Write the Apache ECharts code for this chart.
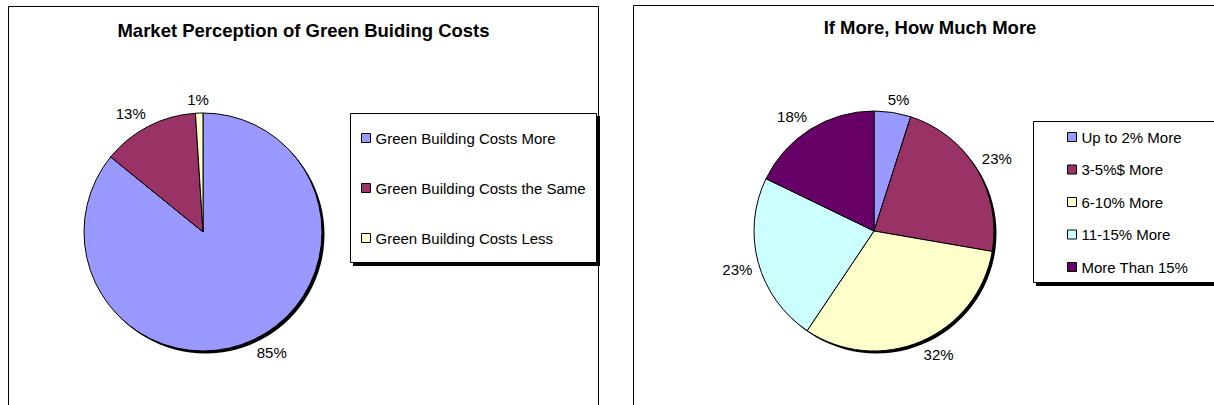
<!DOCTYPE html>
<html>
<head>
<meta charset="utf-8">
<script src="https://cdn.jsdelivr.net/npm/echarts@6/dist/echarts.min.js"></script>
<style>
html,body{margin:0;padding:0;background:#fff;}
#c{width:1214px;height:405px;}
</style>
</head>
<body>
<div id="c"></div>
<script>
var title1 = 'Market Perception of Green Buiding Costs';
var categories1 = ['Green Building Costs More', 'Green Building Costs the Same', 'Green Building Costs Less'];
var values1 = [85, 13, 1];
var colors1 = ['#9999FF', '#993366', '#FFFFCC'];

var title2 = 'If More, How Much More';
var categories2 = ['Up to 2% More', '3-5%$ More', '6-10% More', '11-15% More', 'More Than 15%'];
var values2 = [5, 23, 32, 23, 18];
var colors2 = ['#9999FF', '#993366', '#FFFFCC', '#CCFFFF', '#660066'];

var FONT = 'Arial, "Liberation Sans", sans-serif';

function pieData(cats, vals, cols) {
  return cats.map(function (c, i) {
    return { name: c, value: vals[i], itemStyle: { color: cols[i] } };
  });
}

function clamp1(t) { return Math.max(-1, Math.min(1, t)); }

// Place each label (Excel-like) just outside the slice's bisector
function makeLabelLayout(vals, center, r) {
  var total = vals.reduce(function (a, b) { return a + b; }, 0);
  var cum = [0];
  vals.forEach(function (v, i) { cum.push(cum[i] + v); });
  return function (p) {
    var i = p.dataIndex;
    if (i == null || i >= vals.length) return;
    var mid = (cum[i] + cum[i + 1]) / 2 / total * Math.PI * 2;
    var dx = Math.sin(mid), dy = -Math.cos(mid);
    var d = r + 6;
    var w = p.labelRect.width, h = p.labelRect.height;
    return {
      x: center[0] + dx * d + clamp1(dx * 3) * w / 2,
      y: center[1] + dy * d + clamp1(dy * 3) * h / 2,
      align: 'center',
      verticalAlign: 'middle'
    };
  };
}

function mainPie(cats, vals, cols, center, r) {
  return {
    type: 'pie',
    center: center,
    radius: r,
    startAngle: 90,
    clockwise: true,
    avoidLabelOverlap: false,
    z: 3,
    animation: false,
    itemStyle: { borderColor: '#000', borderWidth: 1 },
    label: {
      show: true, position: 'outside', formatter: '{c}%',
      color: '#000', fontSize: 15, fontFamily: FONT
    },
    labelLine: { show: false, length: 10, length2: 0 },
    labelLayout: makeLabelLayout(vals, center, r),
    emphasis: { disabled: true },
    data: pieData(cats, vals, cols)
  };
}

function shadowPie(center, r) {
  return {
    type: 'pie',
    center: [center[0] + 2.5, center[1] + 2.5],
    radius: r,
    z: 2,
    silent: true,
    animation: false,
    label: { show: false },
    labelLine: { show: false },
    itemStyle: { color: '#000', borderWidth: 0 },
    emphasis: { disabled: true },
    data: [{ name: '', value: 1 }]
  };
}

var chart = echarts.init(document.getElementById('c'), null, { renderer: 'svg' });

var option = {
  backgroundColor: '#fff',
  animation: false,
  title: [
    { text: title1, left: 303.5, top: 21, textAlign: 'center', padding: 0,
      textStyle: { fontSize: 18.5, fontWeight: 'bold', color: '#000', fontFamily: FONT } },
    { text: title2, left: 930, top: 18, textAlign: 'center', padding: 0,
      textStyle: { fontSize: 18.5, fontWeight: 'bold', color: '#000', fontFamily: FONT } }
  ],
  legend: [
    { data: categories1, orient: 'vertical', left: 361, top: 129.5, padding: 0,
      itemGap: 33, itemWidth: 9, itemHeight: 9, icon: 'rect', selectedMode: false,
      itemStyle: { borderColor: '#000', borderWidth: 1 },
      textStyle: { fontSize: 15, color: '#000', fontFamily: FONT, lineHeight: 17 } },
    { data: categories2, orient: 'vertical', left: 1067, top: 128.5, padding: 0,
      itemGap: 15.5, itemWidth: 9, itemHeight: 9, icon: 'rect', selectedMode: false,
      itemStyle: { borderColor: '#000', borderWidth: 1 },
      textStyle: { fontSize: 15, color: '#000', fontFamily: FONT, lineHeight: 17 } }
  ],
  graphic: [
    { type: 'rect', z: 0, shape: { x: 8.5, y: 6.5, width: 590, height: 500 },
      style: { fill: '#fff', stroke: '#000', lineWidth: 1 }, silent: true },
    { type: 'rect', z: 0, shape: { x: 633.5, y: 5.5, width: 700, height: 500 },
      style: { fill: '#fff', stroke: '#000', lineWidth: 1 }, silent: true },
    { type: 'rect', z: 1, shape: { x: 353, y: 116, width: 247, height: 150 },
      style: { fill: '#000' }, silent: true },
    { type: 'rect', z: 1, shape: { x: 350.5, y: 113.5, width: 246, height: 149 },
      style: { fill: '#fff', stroke: '#000', lineWidth: 1 }, silent: true },
    { type: 'rect', z: 1, shape: { x: 1036, y: 124, width: 200, height: 162 },
      style: { fill: '#000' }, silent: true },
    { type: 'rect', z: 1, shape: { x: 1033.5, y: 121.5, width: 200, height: 161 },
      style: { fill: '#fff', stroke: '#000', lineWidth: 1 }, silent: true }
  ],
  series: [
    shadowPie([203, 232], 119),
    mainPie(categories1, values1, colors1, [203, 232], 119),
    shadowPie([874, 231], 120),
    mainPie(categories2, values2, colors2, [874, 231], 120)
  ]
};
chart.setOption(option);
</script>
</body>
</html>
